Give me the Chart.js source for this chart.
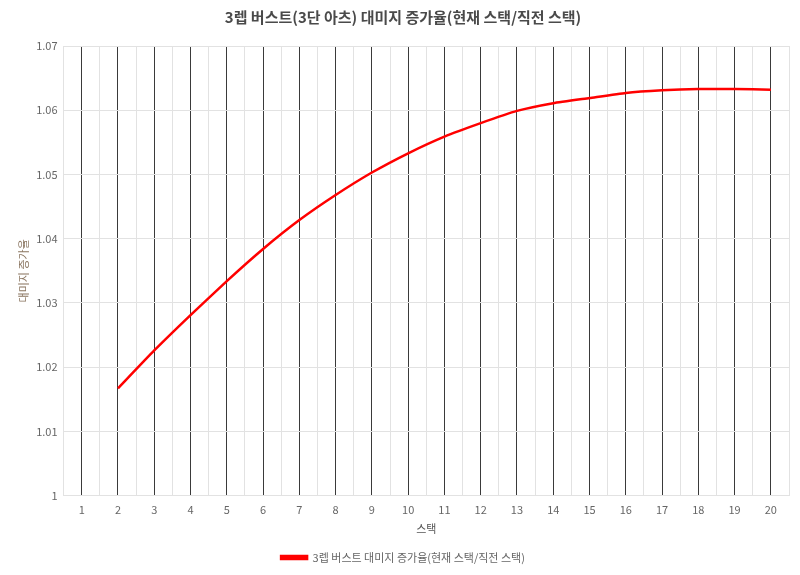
<!DOCTYPE html>
<html>
<head>
<meta charset="utf-8">
<script src="https://cdn.jsdelivr.net/npm/chart.js@4/dist/chart.umd.min.js"></script>
<style>
html,body{margin:0;padding:0;background:#fff;}
#wrap{width:800px;height:575px;position:relative;}
</style>
</head>
<body>
<div id="wrap"><canvas id="c" width="800" height="575"></canvas></div>
<script>
const steps = [1,2,3,4,5,6,7,8,9,10,11,12,13,14,15,16,17,18,19,20];
const ratio = [null,1.0167,1.0226,1.0281,1.0334,1.0384,1.0429,1.0468,1.0503,1.0533,1.0559,1.0580,1.0599,1.0611,1.0619,1.0627,1.0631,1.0633,1.0633,1.0632];
const yTicks = [1,1.01,1.02,1.03,1.04,1.05,1.06,1.07];
const titleText = '3렙 버스트(3단 아츠) 대미지 증가율(현재 스택/직전 스택)';
const seriesName = '3렙 버스트 대미지 증가율(현재 스택/직전 스택)';

const FONT = "'Noto Sans CJK KR', 'Noto Sans', sans-serif";
Chart.defaults.font.family = FONT;

new Chart(document.getElementById('c'), {
  type: 'line',
  data: {
    datasets: [{
      label: seriesName,
      data: steps.map((s,i)=>({x:s, y:ratio[i]})),
      borderColor: '#ff0000',
      backgroundColor: '#ff0000',
      borderWidth: 2.5,
      pointRadius: 0,
      tension: 0.15,
      spanGaps: false
    }]
  },
  options: {
    responsive: false,
    animation: false,
    layout: {padding: {left: 17, right: 11, top: 0, bottom: 2}},
    plugins: {
      title: {
        display: true,
        text: titleText,
        color: '#4a4a4a',
        font: {size: 15, weight: 'bold', family: FONT},
        padding: {top: 8, bottom: 20}
      },
      legend: {
        position: 'bottom',
        labels: {
          color: '#666',
          boxWidth: 26,
          boxHeight: 3,
          padding: 12,
          font: {size: 11, family: FONT}
        }
      },
      tooltip: {enabled: false}
    },
    scales: {
      x: {
        type: 'linear',
        min: 0.5,
        max: 20.5,
        afterBuildTicks: (axis) => {
          const t = [];
          for (let v = 0.5; v <= 20.5 + 1e-9; v += 0.5) t.push({value: v});
          axis.ticks = t;
        },
        ticks: {
          autoSkip: false,
          maxRotation: 0,
          color: '#666',
          font: {size: 11},
          padding: 8,
          callback: (v) => Number.isInteger(v) ? String(v) : ''
        },
        grid: {
          drawTicks: false,
          color: (ctx) => (ctx.tick && Number.isInteger(ctx.tick.value)) ? '#3a3a3a' : '#e2e2e2',
          lineWidth: 1
        },
        border: {color: '#e2e2e2'},
        title: {
          display: true,
          text: '스택',
          color: '#555',
          font: {size: 11},
          padding: {top: -3, bottom: 5}
        }
      },
      y: {
        min: 1,
        max: 1.07,
        afterBuildTicks: (axis) => { axis.ticks = yTicks.map(v=>({value:v})); },
        ticks: {
          color: '#666',
          font: {size: 11},
          padding: 6,
          callback: (v) => String(Math.round(v*100)/100)
        },
        grid: {
          drawTicks: false,
          color: '#e2e2e2'
        },
        border: {color: '#e2e2e2'},
        title: {
          display: true,
          text: '대미지 증가율',
          color: '#8a7560',
          font: {size: 11},
          padding: {top: 0, bottom: 0}
        }
      }
    }
  }
});
</script>
</body>
</html>
